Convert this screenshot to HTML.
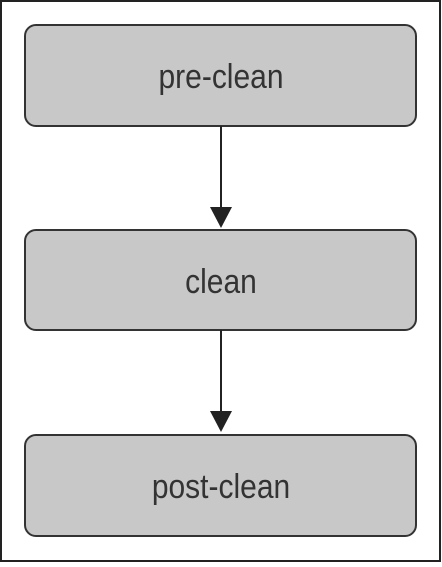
<!DOCTYPE html>
<html><head><style>
html,body{margin:0;padding:0;background:#fff;}
</style></head><body>
<svg width="442" height="562" xmlns="http://www.w3.org/2000/svg">
<rect x="1" y="1" width="439" height="560" fill="#fff" stroke="#222" stroke-width="2"/>
<g fill="#c8c8c8" stroke="#333" stroke-width="2">
<rect x="25" y="25" width="391" height="101" rx="11"/>
<rect x="25" y="230" width="391" height="100" rx="11"/>
<rect x="25" y="435" width="391" height="101" rx="11"/>
</g>
<g stroke="#222" stroke-width="2">
<line x1="221" y1="126" x2="221" y2="210"/>
<line x1="221" y1="330" x2="221" y2="414"/>
</g>
<g fill="#222">
<polygon points="210,207 232,207 221,228"/>
<polygon points="210,411 232,411 221,432"/>
</g>
<g font-family="Liberation Sans, sans-serif" font-size="30" fill="#333" text-anchor="middle">
<text transform="translate(221 88) scale(1 1.15)">pre-clean</text>
<text transform="translate(221 293) scale(1 1.15)">clean</text>
<text transform="translate(221 498) scale(1 1.15)">post-clean</text>
</g>
</svg>
</body></html>
